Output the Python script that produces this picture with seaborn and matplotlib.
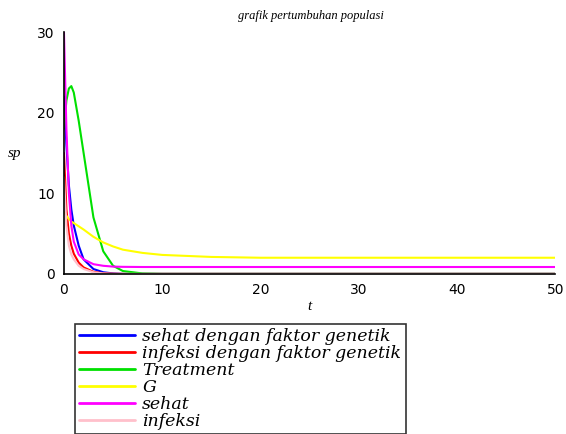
import seaborn as sns
import matplotlib.pyplot as plt
import pandas as pd

t = [0, 0.25, 0.5, 0.75, 1, 1.5, 2, 3, 4, 5, 6, 8, 10, 15, 20, 30, 40, 50]

sehat_genetik = [22, 16, 11, 8, 6, 3.5, 1.8, 0.6, 0.2, 0.05, 0, 0, 0, 0, 0, 0, 0, 0]
infeksi_genetik = [15, 8, 5, 3.5, 2.5, 1.4, 0.8, 0.25, 0.08, 0.02, 0, 0, 0, 0, 0, 0, 0, 0]
treatment = [18, 21.5, 23, 23.3, 22.5, 19, 15, 7, 2.8, 1.0, 0.35, 0.05, 0, 0, 0, 0, 0, 0]
g = [7.7, 7.2, 6.8, 6.5, 6.3, 5.9, 5.5, 4.6, 3.9, 3.4, 3.0, 2.6, 2.35, 2.1, 2.0, 2.0, 2.0, 2.0]
sehat = [30, 18, 10, 6, 4, 2.4, 1.8, 1.2, 1.0, 0.9, 0.87, 0.85, 0.85, 0.85, 0.85, 0.85, 0.85, 0.85]
infeksi = [12, 6, 3.5, 2.4, 1.8, 1.0, 0.6, 0.2, 0.05, 0, 0, 0, 0, 0, 0, 0, 0, 0]

labels = ["sehat dengan faktor genetik", "infeksi dengan faktor genetik",
          "Treatment", "G", "sehat", "infeksi"]
colors = ["#0000ff", "#ff0000", "#00e000", "#ffff00", "#ff00ff", "#ffc0cb"]

rows = []
for name, vals in zip(labels, [sehat_genetik, infeksi_genetik, treatment, g, sehat, infeksi]):
    for ti, v in zip(t, vals):
        rows.append({"t": ti, "sp": v, "series": name})
df = pd.DataFrame(rows)

sns.set_style("white")
plt.rcParams["text.color"] = "black"
fig = plt.figure(figsize=(5.66, 4.34), dpi=100)
ax = fig.add_axes([0.113, 0.369, 0.868, 0.557])

sns.lineplot(data=df, x="t", y="sp", hue="series", hue_order=labels,
             palette=colors, linewidth=1.5, ax=ax, legend=False)

ax.set_xlim(0, 50)
ax.set_ylim(0, 30)
ax.set_xticks([0, 10, 20, 30, 40, 50])
ax.set_yticks([0, 10, 20, 30])
ax.tick_params(axis="both", labelsize=10, length=3, direction="out",
               colors="black", labelcolor="black")
sns.despine(ax=ax)
for s in ["left", "bottom"]:
    ax.spines[s].set_color("black")
    ax.spines[s].set_linewidth(1.2)

serif = {"family": "Liberation Serif", "style": "italic", "color": "black"}
ax.set_xlabel("t", fontdict=serif, fontsize=11, labelpad=2)
ax.set_ylabel("sp", fontdict=serif, fontsize=11, rotation=0)
ax.yaxis.set_label_coords(-0.1, 0.47)
fig.text(0.55, 0.962, "grafik pertumbuhan populasi", ha="center", va="center",
         fontfamily="Liberation Serif", fontstyle="italic", fontsize=9, color="black")

handles = [plt.Line2D([], [], color=c, linewidth=2) for c in colors]
leg = fig.legend(handles, labels, loc="upper left", bbox_to_anchor=(0.1325, 0.254),
                 prop={"family": "DejaVu Serif", "style": "italic", "size": 12.5},
                 handlelength=3.2, labelspacing=0.0, borderpad=0.25,
                 borderaxespad=0, handletextpad=0.42, frameon=True, fancybox=False,
                 labelcolor="black")
leg.get_frame().set_edgecolor("black")
leg.get_frame().set_linewidth(1.2)

fig.savefig("out.png", dpi=100)
